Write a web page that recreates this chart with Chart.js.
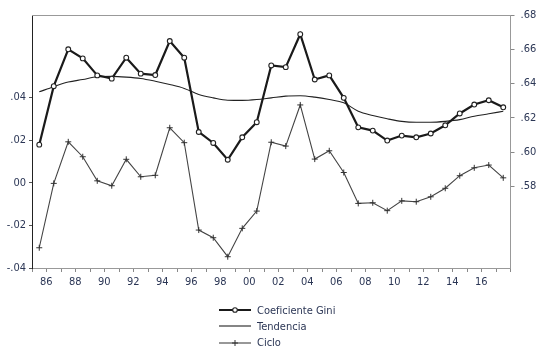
<!DOCTYPE html>
<html lang="es">
<head>
<meta charset="UTF-8">
<title>Coeficiente Gini, tendencia y ciclo</title>
<script src="https://cdn.jsdelivr.net/npm/chart.js"></script>
<style>
*{margin:0;padding:0;box-sizing:border-box;}
body{background:#fff;width:550px;height:352px;overflow:hidden;position:relative;}
#chart{display:block;}
.legend{position:absolute;left:219px;top:302px;font-family:'Liberation Sans Narrow','DejaVu Sans Condensed',sans-serif;font-size:11px;color:#2b3655;}
.legend div{height:16.3px;display:flex;align-items:center;}
.legend svg{width:32px;height:10px;margin-right:6px;}
</style>
</head>
<body>
<canvas id="chart" width="550" height="352"></canvas>

<div class="legend">
<div><svg viewBox="0 0 32 10"><line x1="0" y1="5" x2="32" y2="5" stroke="#1a1a1a" stroke-width="2"/><circle cx="16" cy="5" r="2.3" fill="#fff" stroke="#222" stroke-width="1.1"/></svg>Coeficiente Gini</div>
<div><svg viewBox="0 0 32 10"><line x1="0" y1="5" x2="32" y2="5" stroke="#222" stroke-width="1.1"/></svg>Tendencia</div>
<div><svg viewBox="0 0 32 10"><line x1="0" y1="5" x2="32" y2="5" stroke="#444" stroke-width="1.1"/><line x1="16" y1="2" x2="16" y2="8" stroke="#333" stroke-width="1"/><line x1="13" y1="5" x2="19" y2="5" stroke="#333" stroke-width="1"/></svg>Ciclo</div>
</div>

<script>
const years=[1986,1987,1988,1989,1990,1991,1992,1993,1994,1995,1996,1997,1998,1999,2000,2001,2002,
2003,2004,2005,2006,2007,2008,2009,2010,2011,2012,2013,2014,2015,2016,2017,2018];

// years that carry a label on the x axis
const labelYears=[1986,1988,1990,1992,1994,1996,1998,2000,2002,2004,2006,2008,2010,2012,2014,2016];

// coeficiente de Gini (eje derecho)
const gini=[0.6044,0.6385,0.6600,0.6547,0.6448,0.6429,0.6551,0.6458,0.6450,0.6648,0.6551,0.6118,0.6054,
0.5956,0.6087,0.6175,0.6506,0.6496,0.6688,0.6424,0.6448,0.6317,0.6145,0.6126,0.6068,0.6097,0.6087,
0.6109,0.6157,0.6226,0.6278,0.6303,0.6262];

// tendencia (eje derecho)
const tendencia=[0.6352,0.6382,0.6409,0.6424,0.6440,0.6442,0.6438,0.6430,0.6414,0.6395,0.6372,0.6337,
0.6317,0.6303,0.6302,0.6307,0.6317,0.6327,0.6329,0.6321,0.6307,0.6288,0.6239,0.6214,0.6195,0.6180,
0.6175,0.6175,0.6180,0.6190,0.6210,0.6224,0.6239];

// ciclo (eje izquierdo)
const ciclo=[-0.0305,-0.0003,0.0192,0.0122,0.0009,-0.0014,0.0110,0.0028,0.0035,0.0258,0.0188,-0.0222,
-0.0258,-0.0347,-0.0214,-0.0133,0.0190,0.0172,0.0365,0.0111,0.0150,0.0048,-0.0097,-0.0094,-0.0131,
-0.0085,-0.0089,-0.0066,-0.0026,0.0033,0.0070,0.0083,0.0023];

const leftTicks=[-0.04,-0.02,0,0.02,0.04];
const leftLabels=['-.04','-.02','00','.02','.04'];
const rightTicks=[0.58,0.60,0.62,0.64,0.66,0.68];
const rightLabels=['.58','.60','.62','.64','.66','.68'];

const FONT="'Liberation Sans Narrow','DejaVu Sans Condensed',sans-serif";
const TXT='#2b3655';

// top border of the plot frame
const frameTop={
id:'frameTop',
afterDraw(chart){
const a=chart.chartArea,ctx=chart.ctx;
ctx.save();
ctx.strokeStyle='#999';
ctx.lineWidth=1;
ctx.beginPath();
ctx.moveTo(a.left,a.top+0.5);
ctx.lineTo(a.right,a.top+0.5);
ctx.stroke();
ctx.restore();
}
};

new Chart(document.getElementById('chart'),{
type:'line',
data:{
labels:years,
datasets:[
{label:'Coeficiente Gini',data:gini,yAxisID:'y1',borderColor:'#1a1a1a',borderWidth:2.2,
pointStyle:'circle',pointRadius:2.4,pointBackgroundColor:'#fff',pointBorderColor:'#222',pointBorderWidth:1.1,tension:0},
{label:'Tendencia',data:tendencia,yAxisID:'y1',borderColor:'#222',borderWidth:1.1,pointRadius:0,
cubicInterpolationMode:'monotone'},
{label:'Ciclo',data:ciclo,yAxisID:'y',borderColor:'#444',borderWidth:1.1,
pointStyle:'cross',pointRadius:3,pointBorderColor:'#333',pointBorderWidth:1,tension:0}
]
},
options:{
responsive:false,
animation:false,
layout:{padding:{top:15,left:0,right:0,bottom:0}},
plugins:{legend:{display:false},tooltip:{enabled:false}},
scales:{
x:{
type:'category',
offset:true,
grid:{offset:true,drawOnChartArea:false,tickLength:4,color:'#888'},
border:{color:'#999'},
ticks:{
autoSkip:false,maxRotation:0,minRotation:0,padding:4,labelOffset:7,
color:TXT,font:{family:FONT,size:11},
callback:(v,i)=>labelYears.includes(years[i])?String(years[i]%100).padStart(2,'0'):''
},
afterFit:s=>{s.height=84;}
},
y:{
position:'left',
min:-0.04,max:0.0787,
grid:{drawOnChartArea:false,tickLength:3,color:'#555'},
border:{color:'#222'},
afterBuildTicks:a=>{a.ticks=leftTicks.map(v=>({value:v}));},
ticks:{padding:3,color:TXT,font:{family:FONT,size:11},callback:(v,i)=>leftLabels[i]},
afterFit:s=>{s.width=32;}
},
y1:{
position:'right',
min:0.5325,max:0.68,
grid:{drawOnChartArea:false,tickLength:4,color:'#888'},
border:{color:'#999'},
afterBuildTicks:a=>{a.ticks=rightTicks.map(v=>({value:v}));},
ticks:{padding:6,color:TXT,font:{family:FONT,size:11},callback:(v,i)=>rightLabels[i]},
afterFit:s=>{s.width=39.5;}
}
}
},
plugins:[frameTop]
});
</script>
</body>
</html>
